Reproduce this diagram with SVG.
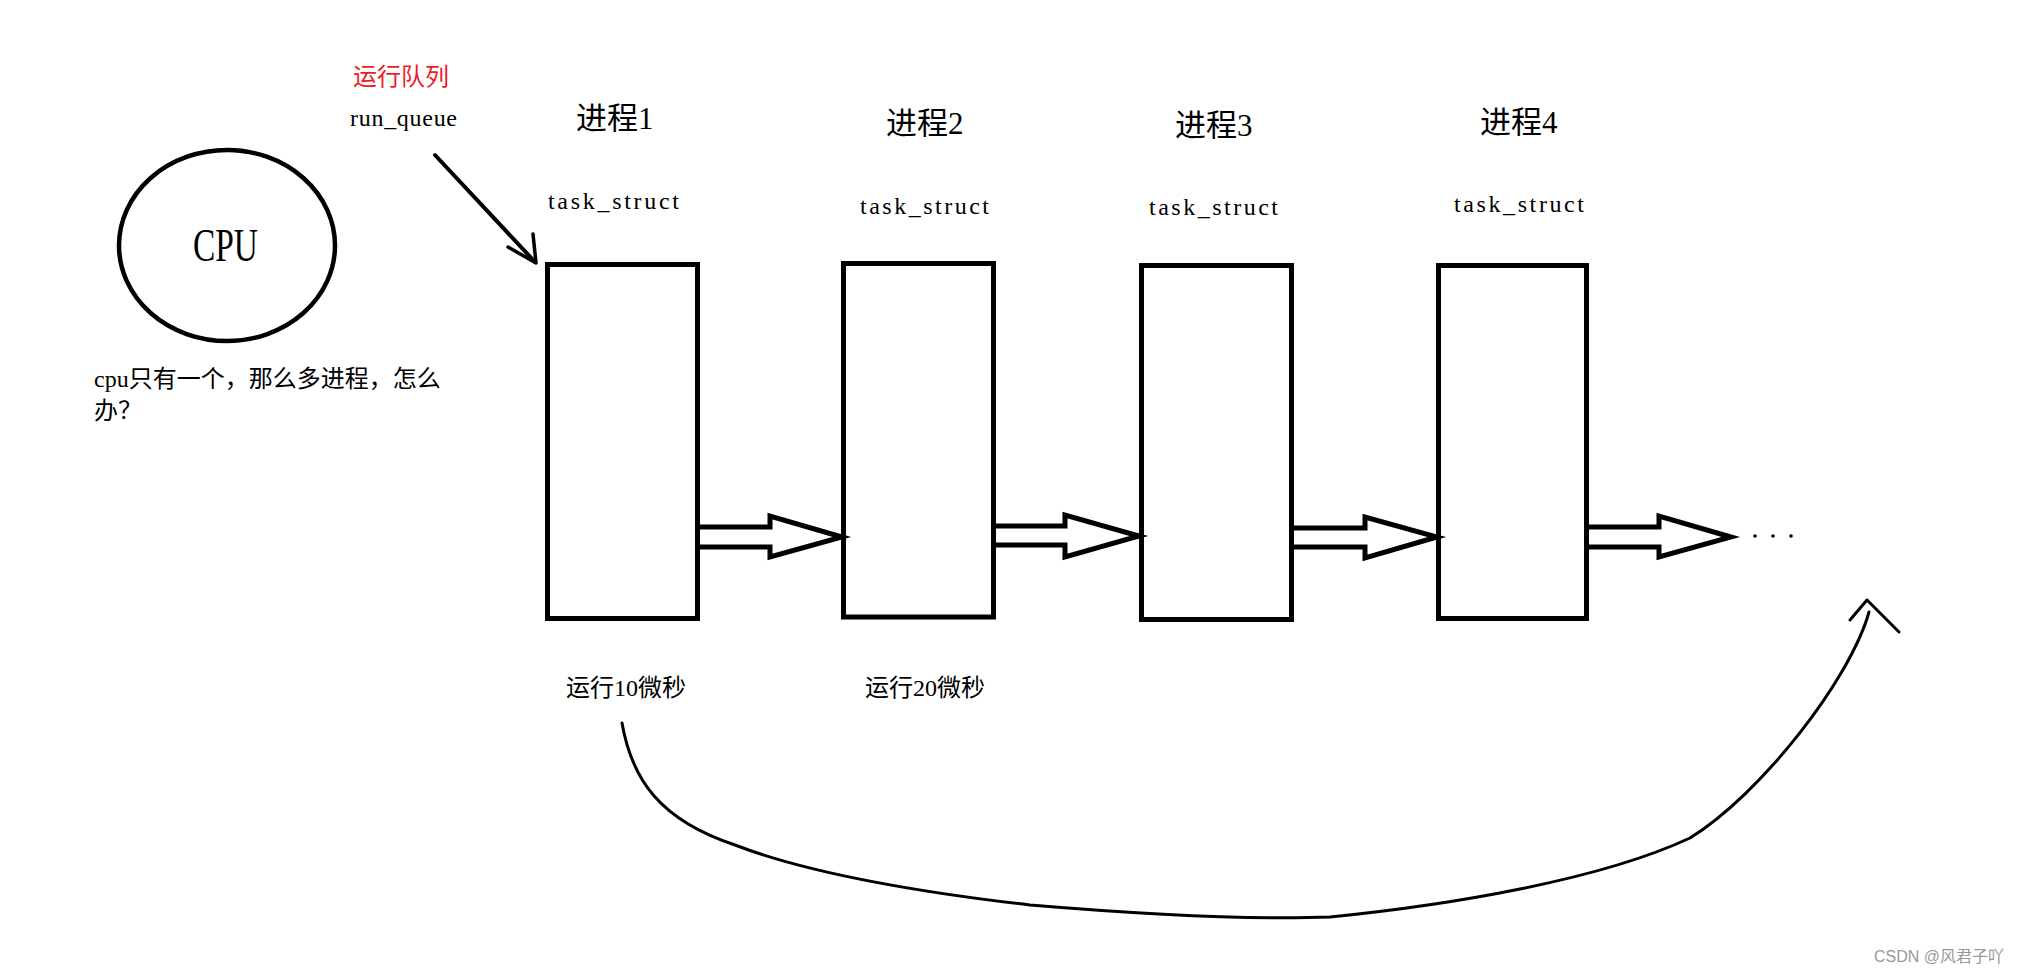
<svg xmlns="http://www.w3.org/2000/svg" width="2026" height="973" viewBox="0 0 2026 973">
<style>
.t{font-family:"Liberation Serif","Noto Sans CJK SC",serif;fill:#000;}
.cj{font-family:"Liberation Serif","Noto Sans CJK SC",sans-serif;fill:#000;}
.box{fill:#fff;stroke:#000;stroke-width:5;}
.blk{fill:#fff;stroke:#000;stroke-width:5;stroke-linejoin:miter;}
.ln{fill:none;stroke:#000;stroke-linecap:round;stroke-linejoin:round;}
</style>
<rect width="2026" height="973" fill="#fff"/>

<g id="run-queue-label">
<text class="cj" x="353" y="85" font-size="24" fill="#ed1c24" style="fill:#ed1c24">运行队列</text>
<text class="t" x="350" y="126" font-size="24" textLength="107">run_queue</text>
</g>

<g id="cpu">
<ellipse cx="227" cy="245.5" rx="108" ry="95.5" fill="none" stroke="#000" stroke-width="4.5"/>
<text class="t" x="193" y="261" font-size="46" textLength="65" lengthAdjust="spacingAndGlyphs">CPU</text>
</g>

<g id="cpu-note">
<text class="cj" x="94" y="387" font-size="24">cpu只有一个，那么多进程，怎么</text>
<text class="cj" x="94" y="419" font-size="24">办？</text>
</g>

<g id="proc1">
<text class="cj" x="576" y="129" font-size="31">进程1</text>
<text class="t" x="548" y="209" font-size="24" textLength="131">task_struct</text>
<rect class="box" x="547.5" y="264.5" width="150" height="354"/>
<text class="cj" x="566" y="696" font-size="24">运行10微秒</text>
</g>

<g id="proc2">
<text class="cj" x="886" y="134" font-size="31">进程2</text>
<text class="t" x="860" y="214" font-size="24" textLength="129">task_struct</text>
<rect class="box" x="843.5" y="263.5" width="150" height="353.5"/>
<text class="cj" x="865" y="696" font-size="24">运行20微秒</text>
</g>

<g id="proc3">
<text class="cj" x="1175" y="136" font-size="31">进程3</text>
<text class="t" x="1149" y="215" font-size="24" textLength="129">task_struct</text>
<rect class="box" x="1141.5" y="265.5" width="150" height="354"/>
</g>

<g id="proc4">
<text class="cj" x="1480" y="133" font-size="31">进程4</text>
<text class="t" x="1454" y="212" font-size="24" textLength="130">task_struct</text>
<rect class="box" x="1438.5" y="265.5" width="148" height="353"/>
</g>

<g id="ellipsis">
<circle cx="1755" cy="536" r="1.8" fill="#000"/>
<circle cx="1773" cy="536" r="1.8" fill="#000"/>
<circle cx="1791" cy="536" r="1.8" fill="#000"/>
</g>

<g id="connectors">
<path class="ln" d="M435,155 L535,262" stroke-width="4"/>
<path class="ln" d="M508,247 L536,263 L533,234" stroke-width="3.5"/>
<path class="blk" d="M700,527 L770,527 L770,516 L842,537 L770,557 L770,547 L700,547"/>
<path class="blk" d="M996,526 L1065,526 L1065,515 L1139,536 L1065,557 L1065,545 L996,545"/>
<path class="blk" d="M1294,528 L1365,528 L1365,517 L1437,537 L1365,558 L1365,547 L1294,547"/>
<path class="blk" d="M1589,527 L1659,527 L1659,516 L1731,537 L1659,557 L1659,547 L1589,547"/>
<path class="ln" stroke-width="3" d="M622,723 C632,780 660,820 735,845 C800,870 900,890 1030,905 C1150,915 1250,920 1330,917 C1450,905 1600,880 1690,838 C1760,795 1850,680 1869,612"/>
<path class="ln" stroke-width="3" d="M1850,620 L1867,600 L1899,632"/>
</g>

<text x="1874" y="962" font-size="16" fill="#999" font-family="Liberation Sans,Noto Sans CJK SC,sans-serif">CSDN @风君子吖</text>
</svg>
